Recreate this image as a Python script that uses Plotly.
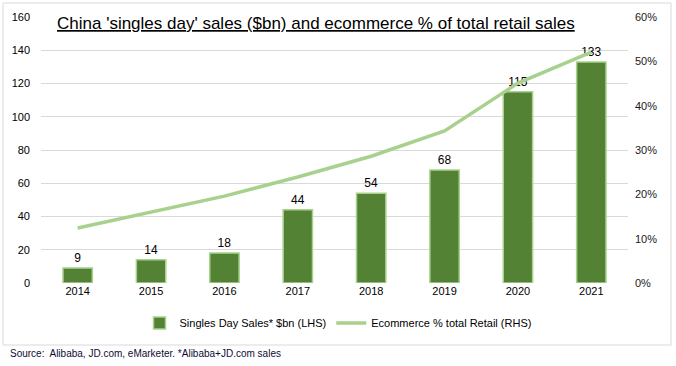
import plotly.graph_objects as go

years = ["2014", "2015", "2016", "2017", "2018", "2019", "2020", "2021"]
sales_bn = [9, 14, 18, 44, 54, 68, 115, 133]
ecom_pct = [0.124, 0.160, 0.196, 0.239, 0.286, 0.343, 0.451, 0.521]
left_ticks = [0, 20, 40, 60, 80, 100, 120, 140, 160]
right_ticks = [0, 0.1, 0.2, 0.3, 0.4, 0.5, 0.6]

W, H = 676, 366
L, R, T, B = 41, 628, 17, 283
pw, ph = R - L, B - T

def px(x):
    return (x - L) / pw

def py(y):
    return (B - y) / ph

FONT = "Liberation Sans"

fig = go.Figure()
fig.add_trace(go.Bar(
    x=years, y=sales_bn, name="Singles Day Sales* $bn (LHS)",
    marker=dict(color="#548235", line=dict(color="#A9D18E", width=1.5)),
    width=0.4,
    text=[str(v) for v in sales_bn], textposition="outside",
    textfont=dict(size=12, color="#000000", family=FONT),
    cliponaxis=False,
))
fig.add_trace(go.Scatter(
    x=years, y=ecom_pct, name="Ecommerce % total Retail (RHS)",
    mode="lines", line=dict(color="#A9D18E", width=3.5),
    yaxis="y2",
))

fig.update_layout(
    width=W, height=H,
    margin=dict(l=L, r=W - R, t=T, b=H - B, autoexpand=False),
    paper_bgcolor="white", plot_bgcolor="white",
    font=dict(family=FONT, size=11, color="#000000"),
    bargap=0.6,
    xaxis=dict(showgrid=False, showline=False, ticks="",
               tickfont=dict(size=11, color="#000000")),
    yaxis=dict(range=[0, 160], tickvals=left_ticks, showgrid=True,
               gridcolor="#D9D9D9", gridwidth=1, zeroline=False,
               ticks="", tickfont=dict(size=11, color="#000000"), ticklabelstandoff=10),
    yaxis2=dict(range=[0, 0.6], tickvals=right_ticks, tickformat=".0%",
                overlaying="y", side="right", showgrid=False, zeroline=False,
                ticks="", tickfont=dict(size=11, color="#1a1a1a"), ticklabelstandoff=6),
    legend=dict(orientation="h", x=px(338), xanchor="center", y=py(323), yanchor="middle",
                font=dict(size=11, color="#000000"), traceorder="normal"),
    showlegend=True,
)

fig.add_annotation(
    x=px(55), y=py(24), xref="paper", yref="paper", xanchor="left", yanchor="middle",
    text="<u>China 'singles day' sales ($bn) and ecommerce % of total retail sales</u>",
    showarrow=False, font=dict(size=17, color="#000000", family=FONT),
)
fig.add_annotation(
    x=px(8), y=py(353), xref="paper", yref="paper", xanchor="left", yanchor="middle",
    text="Source:  Alibaba, JD.com, eMarketer. *Alibaba+JD.com sales",
    showarrow=False, font=dict(size=10, color="#0d0d33", family=FONT),
)
fig.add_shape(type="rect", xref="paper", yref="paper",
              x0=px(3), x1=px(671), y0=py(345), y1=py(3),
              line=dict(color="#D9D9D9", width=1), layer="below")

fig.write_html("out.html", config={"displayModeBar": False},
               post_script="document.body.style.margin='0';")
